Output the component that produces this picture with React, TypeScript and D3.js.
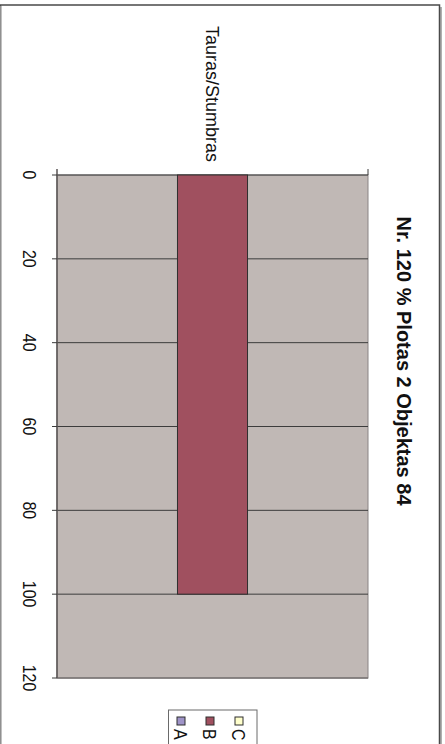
import React from "react";
import * as d3 from "d3";

const categories = ["Tauras/Stumbras"];
const seriesNames = ["A", "B", "C"];
const seriesA = [0];
const seriesB = [100];
const seriesC = [0];
const valueTicks = [0, 20, 40, 60, 80, 100, 120];
const title = "Nr. 120 % Plotas 2 Objektas 84";

const seriesColors = ["#9f94c8", "#a0505f", "#ffffcc"];
const FONT = "'Liberation Sans', Arial, sans-serif";

export default function App() {
  const W = 445;
  const H = 744;
  const plot = { left: 57, right: 368, top: 175, bottom: 678 };
  const y = d3.scaleLinear().domain([0, 120]).range([plot.top, plot.bottom]);
  const xCat = d3.scaleBand<string>().domain(categories).range([plot.left, plot.right]);
  const allSeries = [seriesA, seriesB, seriesC];
  const xSer = d3
    .scaleBand<string>()
    .domain(seriesNames)
    .range([0, xCat.bandwidth()])
    .paddingInner(0)
    .paddingOuter(0.72);

  const legendX = d3.scalePoint<string>().domain(seriesNames).range([181, 239]);

  return (
    <svg
      width={W}
      height={H}
      style={{ position: "absolute", left: 0, top: 0, background: "#fff" }}
      fontFamily={FONT}
    >
      {/* outer chart border */}
      <line x1={441} y1={7} x2={441} y2={H} stroke="#b0b0b0" strokeWidth={2} />
      <rect x={0.5} y={5} width={439} height={H + 20} fill="none" stroke="#4a4a4a" strokeWidth={1.5} />
      <line x1={0.5} y1={6} x2={0.5} y2={H} stroke="#909090" strokeWidth={1.5} />

      {/* plot area */}
      <rect
        x={plot.left}
        y={plot.top}
        width={plot.right - plot.left}
        height={plot.bottom - plot.top}
        fill="#c0b8b5"
        stroke="#8a8484"
        strokeWidth={1}
      />
      {/* gridlines */}
      {valueTicks.map((t) => (
        <line
          key={"g" + t}
          x1={plot.left}
          x2={plot.right}
          y1={y(t)}
          y2={y(t)}
          stroke={t === 120 ? "#7a7474" : "#3c3c3c"}
          strokeWidth={t === 120 ? 1.5 : 1}
        />
      ))}

      {/* bars */}
      {categories.map((c, ci) =>
        allSeries.map((s, si) =>
          s[ci] > 0 ? (
            <rect
              key={c + si}
              x={(xCat(c) as number) + (xSer(seriesNames[si]) as number)}
              y={y(0)}
              width={xSer.bandwidth()}
              height={y(s[ci]) - y(0)}
              fill={seriesColors[si]}
              stroke="#2e2e2e"
              strokeWidth={1}
            />
          ) : null
        )
      )}

      {/* value axis line and ticks */}
      <line x1={plot.left} x2={plot.left} y1={plot.top - 6} y2={plot.bottom} stroke="#5a5454" strokeWidth={1.5} />
      {valueTicks.map((t) => (
        <g key={"t" + t}>
          <line x1={plot.left - 5} x2={plot.left} y1={y(t)} y2={y(t)} stroke="#3c3c3c" strokeWidth={1} />
          <text
            transform={`translate(30,${y(t)}) scale(1.2,1) rotate(90)`}
            textAnchor="middle"
            dominantBaseline="central"
            fontSize={16}
            fill="#111"
          >
            {t}
          </text>
        </g>
      ))}

      {/* category axis ticks */}
      <line x1={plot.right} x2={plot.right} y1={plot.top - 6} y2={plot.top} stroke="#3c3c3c" strokeWidth={1} />
      {categories.map((c) => (
        <text
          key={c}
          transform={`translate(${(xCat(c) as number) + xCat.bandwidth() / 2 - 1},162) rotate(90)`}
          textAnchor="end"
          dominantBaseline="central"
          fontSize={18}
          fill="#111"
        >
          {c}
        </text>
      ))}

      {/* title */}
      <text
        transform={`translate(404,361) rotate(90)`}
        textAnchor="middle"
        dominantBaseline="central"
        fontSize={20}
        fontWeight="bold"
        fill="#111"
      >
        {title}
      </text>

      {/* legend */}
      <rect x={168.5} y={710} width={88.5} height={60} fill="#fff" stroke="#6a6a6a" strokeWidth={1} />
      {seriesNames.map((s, i) => (
        <g key={s}>
          <rect
            x={(legendX(s) as number) - 4}
            y={717}
            width={8}
            height={8}
            fill={seriesColors[i]}
            stroke="#2e2e2e"
            strokeWidth={1}
          />
          <text
            transform={`translate(${legendX(s)},729) scale(1.2,1) rotate(90)`}
            textAnchor="start"
            dominantBaseline="central"
            fontSize={16}
            fill="#111"
          >
            {s}
          </text>
        </g>
      ))}
    </svg>
  );
}
